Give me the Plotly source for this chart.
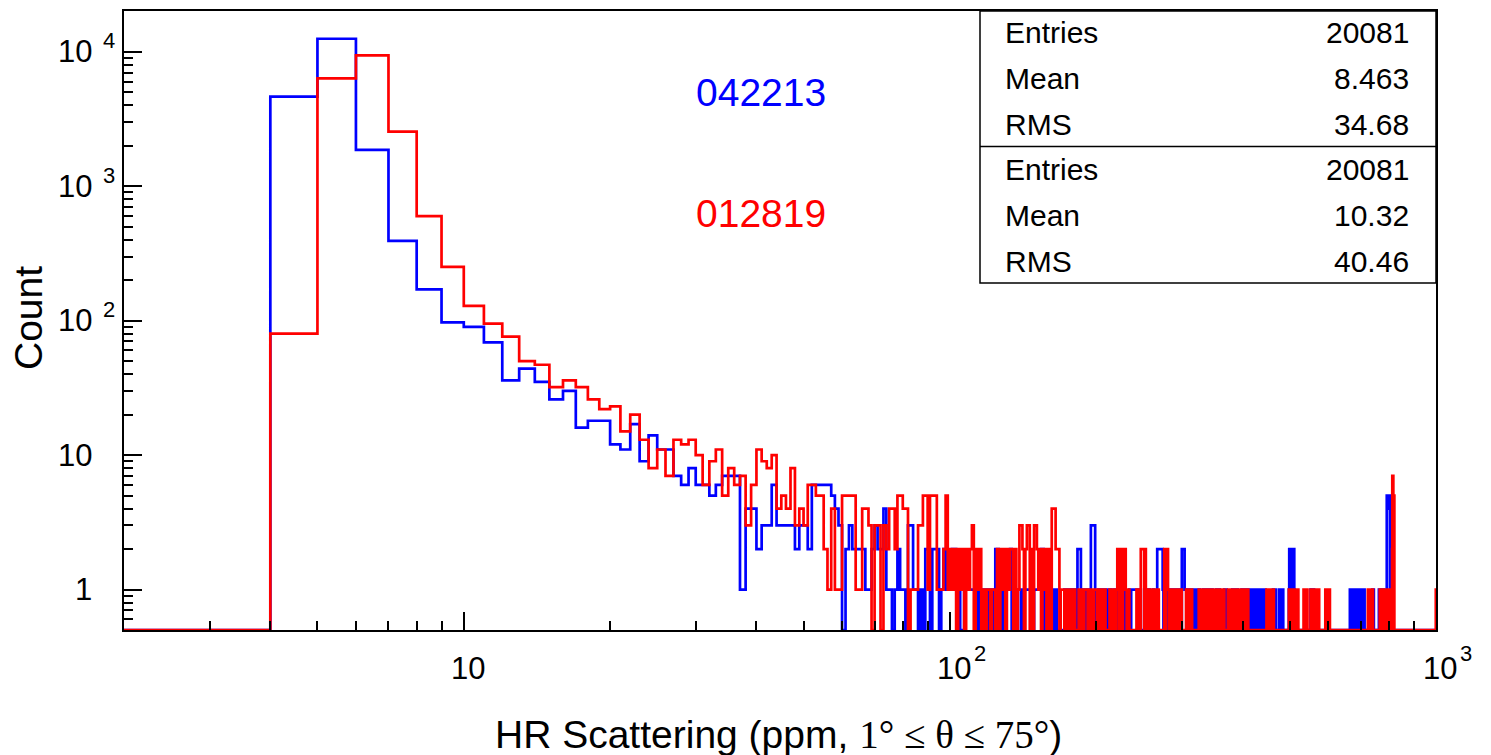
import math
import plotly.graph_objects as go

# ---------------- data ----------------
first_bin = 2            # histogram of width-1 bins, lower edges 2..999
bin_width = 1
last_edge = 1000

# counts for bins 2..59
blue_head = [0, 0,
             4640, 12500, 1860, 392, 171, 97, 90, 69, 36, 44,
             35, 26, 30, 16, 18, 18, 12, 11, 17, 9,
             14, 11, 11, 7, 6, 8, 6, 6, 5, 6,
             7, 7, 7, 1, 4, 4, 2, 3, 3, 6,
             3, 3, 3, 3, 2, 3, 3, 2, 6, 6,
             6, 6, 6, 5, 4, 3]
red_head = [0, 0,
            80, 6340, 9400, 2550, 600, 251, 129, 95, 76, 50,
            47, 32, 36, 32, 26, 22, 23, 15, 20, 13,
            8, 11, 7, 13, 12, 13, 10, 6, 9, 11,
            5, 8, 6, 7, 3, 6, 11, 9, 8, 10,
            4, 5, 4, 8, 3, 4, 3, 6, 6, 5,
            5, 2, 1, 4, 1, 1]

# counts for bins 60..999, one digit per bin (10 bins per chunk)
blue_tail = (
    "0232222112" "3224110121" "1033110102" "2022201211"   # 60-99
    "1221100111" "1111011011" "0110221101" "1112011111"   # 100-139
    "0111111101" "1111220111" "1010010000" "0010110010"   # 140-179
    "0102220100" "1011033330" "0010110110" "0100100010"   # 180-219
    "0010010001" "0000101111" "1110010000" "0100100100"   # 220-259
    "0010000222" "2222100100" "1001000100" "0100010010"   # 260-299
    "2222111000" "0100010001" "0011111000" "0010000101"   # 300-339
    "0100001000" "0001000010" "0000000110" "1000000000"   # 340-379
    "0110110110" "1000000010" "1101101011" "0110110101"   # 380-419
    "1101011011" "0110101101" "1011010000" "0000000000"   # 420-459
    "0010101100" "0000010110" "1101100000" "0000000012"   # 460-499
    "2202202212" "2100000000" "0000000000" "0000000000"   # 500-539
    "0000000000" "0010110100" "1000000000" "0000000000"   # 540-579
    "0000000000" "0000000000" "0000000000" "0000000000"   # 580-619
    "0000000000" "0000000000" "0000000000" "0000000000"   # 620-659
    "0000010110" "1011010110" "1101011010" "1010000000"   # 660-699
    "1011010110" "1010000000" "0000000000" "0000000000"   # 700-739
    "1010100000" "0000000000" "0001011010" "1101101010"   # 740-779
    "1000000000" "0055555455" "5554000000" "0000000000"   # 780-819
    "0000000000" "0000000000" "0000000000" "0000000000"   # 820-859
    "0000000000" "0000000000" "0000000000" "0000000000"   # 860-899
    "0000000000" "0000000000" "0000000000" "0000000000"   # 900-939
    "0000000000" "0000000000" "0000000000" "0000000000"   # 940-979
    "0000000000" "0000000000"                             # 980-999
)
red_tail = (
    "5555114430" "3303244255" "4401113355" "1555111251"   # 60-99
    "2120212021" "2302120101" "1011020212" "0212202013"   # 100-139
    "3202330203" "3212021202" "1044422201" "1101011010"   # 140-179
    "1000110101" "1101101011" "1011010110" "0001011010"   # 180-219
    "1220220212" "1011000000" "0010110222" "2021101101"   # 220-259
    "1011010110" "0000002022" "2101101011" "0110101101"   # 260-299
    "0000001001" "0100100000" "0000011011" "1101101011"   # 300-339
    "0110101101" "1011011010" "1101101000" "0001011101"   # 340-379
    "0011011000" "0011010110" "1101100000" "1000000000"   # 380-419
    "0000000000" "0000000000" "0000000010" "1011011010"   # 420-459
    "1101000000" "0000000000" "0000000000" "0000000010"   # 460-499
    "1101101011" "0110101101" "1000000000" "0000101101"   # 500-539
    "1011000000" "0010110101" "1011010110" "1101100000"   # 540-579
    "0000000000" "0010101101" "1101100000" "0000000000"   # 580-619
    "0000000000" "0000000000" "0000000000" "0000000000"   # 620-659
    "0000000000" "0000000000" "0000000000" "0000000000"   # 660-699
    "0000000000" "0000000000" "0000110101" "1011010110"   # 700-739
    "1100000000" "0000000000" "0000001011" "0101101011"   # 740-779
    "0110101101" "1011011010" "1101101011" "0127777555"   # 780-819
    "5000000000" "0000000000" "0000000000" "0000000000"   # 820-859
    "0000000000" "0000000000" "0000000000" "0000000000"   # 860-899
    "0000000000" "0000000000" "0000000000" "0000000000"   # 900-939
    "0000000000" "0000000000" "0000000000" "0000000000"   # 940-979
    "0000000000" "0000000001"                             # 980-999
)

series_names = ["042213", "012819"]
series_colors = ["#0000ff", "#ff0000"]
stats_labels = ["Entries", "Mean", "RMS"]
stats_blue = ["20081", "8.463", "34.68"]
stats_red = ["20081", "10.32", "40.46"]

y_ticks = [1, 10, 100, 1000, 10000]
y_tick_base = ["1", "10", "10", "10", "10"]
y_tick_exp = ["", "", "2", "3", "4"]
x_ticks = [10, 100, 1000]
x_tick_base = ["10", "10", "10"]
x_tick_exp = ["", "2", "3"]

x_title = ("HR Scattering (ppm, <span style=\"font-family:'Liberation Serif'\">"
           "1° ≤ θ ≤ 75°</span>)")
y_title = "Count"

# ---------------- build ----------------
Y_MIN, Y_MAX = 0.5, 20100
X_MIN, X_MAX = 2, 1000


def counts(head, tail):
    return head + [int(c) for c in tail]


blue_counts = counts(blue_head, blue_tail)
red_counts = counts(red_head, red_tail)

edges = [first_bin + i * bin_width for i in range(len(blue_counts))] + [last_edge]


def step_y(c):
    ys = [v if v > 0 else Y_MIN for v in c]
    return ys + [ys[-1]]


FONT = "Liberation Sans, Arial, Helvetica, sans-serif"

fig = go.Figure()
for cnt, name, col in [(blue_counts, series_names[0], series_colors[0]),
                       (red_counts, series_names[1], series_colors[1])]:
    fig.add_trace(go.Scatter(
        x=edges, y=step_y(cnt), mode="lines", name=name,
        line=dict(color=col, width=2.7, shape="hv", simplify=False),
        showlegend=False, hoverinfo="skip"))

# screen geometry (page has an 8px body margin)
OFF = 8
SW, SH = 1491, 755
PX0, PX1, PY0, PY1 = 124, 1436, 9, 630          # plot area on screen
W, H = SW - OFF, SH - OFF
L, T = PX0 - OFF, PY0 - OFF
R, B = W - (PX1 - OFF), H - (PY1 - OFF)
PW, PH = PX1 - PX0, PY1 - PY0


def px_x(px):
    return (px - PX0) / PW


def px_y(py):
    return (PY1 - py) / PH


ann = []
# y tick labels
for v, b, e in zip(y_ticks, y_tick_base, y_tick_exp):
    ann.append(dict(x=px_x(94), y=math.log10(v), xref="paper", yref="y",
                    text=b, showarrow=False, xanchor="right", yanchor="middle",
                    font=dict(size=31, color="black", family=FONT)))
    if e:
        ann.append(dict(x=px_x(101), y=math.log10(v), xref="paper", yref="y",
                        text=e, showarrow=False, xanchor="left", yanchor="middle",
                        yshift=11, font=dict(size=22, color="black", family=FONT)))
# x tick labels
for v, b, e in zip(x_ticks, x_tick_base, x_tick_exp):
    ann.append(dict(x=math.log10(v), y=px_y(669), xref="x", yref="paper",
                    text=b, showarrow=False, xanchor="center", yanchor="middle",
                    xshift=4, font=dict(size=31, color="black", family=FONT)))
    if e:
        ann.append(dict(x=math.log10(v), y=px_y(669), xref="x", yref="paper",
                        text=e, showarrow=False, xanchor="left", yanchor="middle",
                        xshift=22, yshift=15, font=dict(size=22, color="black", family=FONT)))
# axis titles
ann.append(dict(x=px_x(778), y=px_y(735), xref="paper", yref="paper", text=x_title,
                showarrow=False, xanchor="center", yanchor="middle",
                font=dict(size=39, color="black", family=FONT)))
ann.append(dict(x=px_x(28), y=px_y(317), xref="paper", yref="paper", text=y_title,
                showarrow=False, xanchor="center", yanchor="middle", textangle=-90,
                font=dict(size=39, color="black", family=FONT)))
# series labels
ann.append(dict(x=px_x(761), y=px_y(91), xref="paper", yref="paper", text=series_names[0],
                showarrow=False, xanchor="center", yanchor="middle",
                font=dict(size=39, color=series_colors[0], family=FONT)))
ann.append(dict(x=px_x(761), y=px_y(212), xref="paper", yref="paper", text=series_names[1],
                showarrow=False, xanchor="center", yanchor="middle",
                font=dict(size=39, color=series_colors[1], family=FONT)))
# stats box text
row_y = [31, 77, 123, 168, 214, 260]
vals = stats_blue + stats_red
labs = stats_labels + stats_labels
for ry, lab, val in zip(row_y, labs, vals):
    ann.append(dict(x=px_x(1003), y=px_y(ry), xref="paper", yref="paper", text=lab,
                    showarrow=False, xanchor="left", yanchor="middle",
                    font=dict(size=30, color="black", family=FONT)))
    ann.append(dict(x=px_x(1411), y=px_y(ry), xref="paper", yref="paper", text=val,
                    showarrow=False, xanchor="right", yanchor="middle",
                    font=dict(size=30, color="black", family=FONT)))

shapes = [
    dict(type="rect", xref="paper", yref="paper", x0=px_x(980), x1=1, y0=px_y(282), y1=1,
         line=dict(color="black", width=1.5), fillcolor="white", layer="above"),
    dict(type="line", xref="paper", yref="paper", x0=px_x(980), x1=1, y0=px_y(145), y1=px_y(145),
         line=dict(color="black", width=1.5), layer="above"),
]

axis_common = dict(
    type="log", showgrid=False, zeroline=False, showline=True, linecolor="black",
    linewidth=2, mirror=True, ticks="inside", ticklen=18, tickwidth=2,
    tickcolor="black", dtick=1, showticklabels=False,
    minor=dict(ticks="inside", ticklen=9, tickwidth=2, tickcolor="black",
               dtick="D1", showgrid=False))

fig.update_layout(
    width=W, height=H,
    margin=dict(l=L, r=R, t=T, b=B, pad=0),
    paper_bgcolor="white", plot_bgcolor="white",
    annotations=ann, shapes=shapes,
    xaxis=dict(range=[math.log10(X_MIN), math.log10(X_MAX)], **axis_common),
    yaxis=dict(range=[math.log10(Y_MIN), math.log10(Y_MAX)], **axis_common),
)

fig.write_html("out.html")
